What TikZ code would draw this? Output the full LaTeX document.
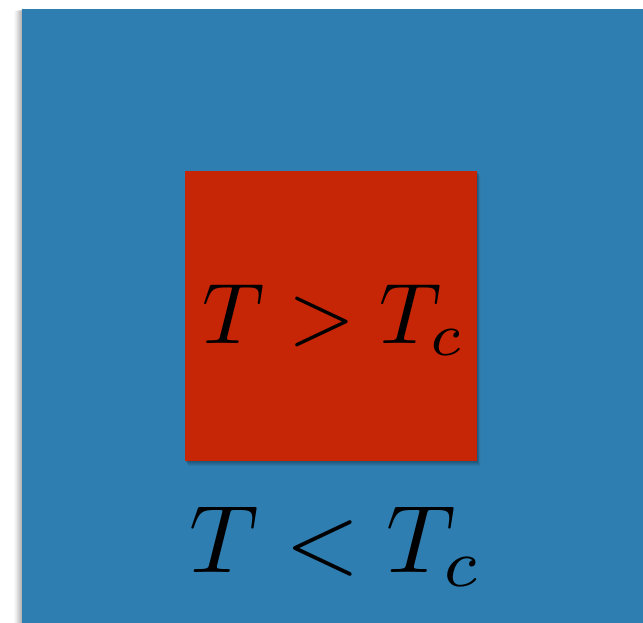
\documentclass[tikz,border=0pt]{standalone}
\definecolor{bgblue}{HTML}{2F7EB1}
\definecolor{boxred}{HTML}{C62506}
\tikzset{
  bigtext/.style={inner sep=0pt, anchor=base, text=black},
}
\begin{document}
\begin{tikzpicture}[x=1pt,y=-1pt]
\useasboundingbox (0,0) rectangle (643,623);
\fill[white] (0,0) rectangle (643,623);
% shadow of the blue sheet
\foreach \i/\o in {1/0.05,2/0.05,3/0.05,4/0.04,5/0.04,6/0.03,7/0.03,8/0.02} {
  \fill[black, opacity=\o] (22-\i,9+\i*0.3) rectangle (643,623);
}
\fill[bgblue] (22,9) rectangle (643,623);
% shadow of the red square
\foreach \i/\o in {1/0.08,2/0.07,3/0.06,4/0.05,5/0.04,6/0.03} {
  \fill[black, opacity=\o] (185+\i*0.5,171+\i*0.8) rectangle (477+\i*0.6,461+\i*0.9);
}
\node[draw=none, fill=boxred, minimum width=292pt, minimum height=290pt, inner sep=0pt] (box) at (331,316) {};
\node[bigtext, scale=8.6] (hot) at (334,343) {$T > T_c$};
\node[bigtext, scale=9.6] (cold) at (336,572) {$T < T_c$};
\end{tikzpicture}
\end{document}
